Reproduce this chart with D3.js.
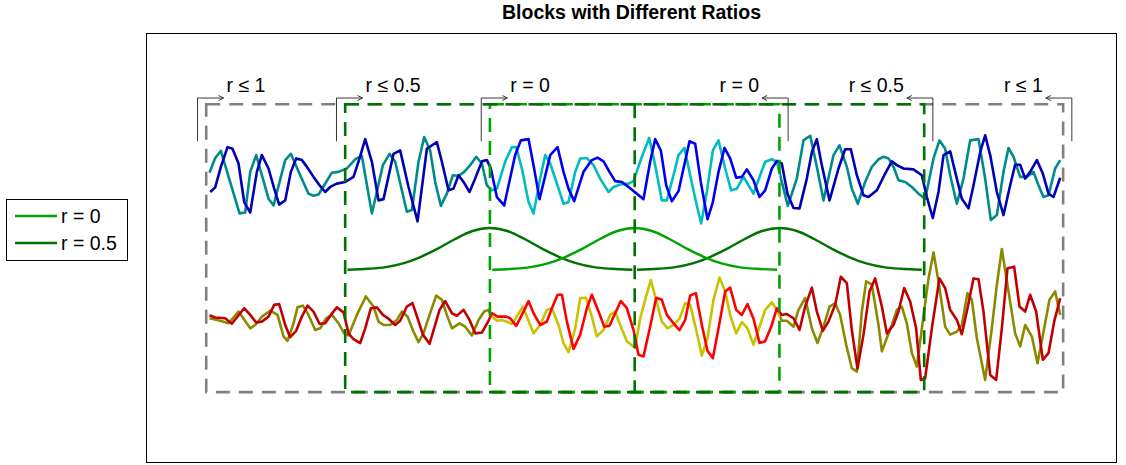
<!DOCTYPE html>
<html>
<head>
<meta charset="utf-8">
<script src="https://cdn.jsdelivr.net/npm/d3@7"></script>
<style>
  body { margin: 0; background: #fff; }
  text { font-family: "Liberation Sans", Arial, Helvetica, sans-serif; fill: #000; }
</style>
</head>
<body>
<svg id="chart" width="1126" height="465"></svg>
<script>
// ---- data -------------------------------------------------------------
// x: sample index (25 samples per block); y: signal amplitude
const blockEdges = [25, 50, 75, 100, 125];
const signalSpan = [1, 149];
const ratioZero = [50, 100];           // region analysed with r = 0
const ratioHalf = [25, 125];           // region analysed with r <= 0.5

// upper pair of signals
const topLead = [[1.57,0.18],[2.55,0.53],[3.53,0.70],[6.75,-0.79],[7.73,-0.77],[8.60,0.20],[9.63,0.60],[11.76,-0.44],[12.63,-0.60],[14.64,0.48],[15.62,0.63],[17.23,0.12],[18.67,-0.32],[19.53,-0.37],[20.40,-0.34],[21.38,-0.12],[22.70,0.18],[23.85,0.20],[25.29,0.28],[26.73,0.50],[27.88,0.58],[29.61,-0.79],[30.47,-0.28],[31.51,0.36],[32.66,0.63],[33.64,0.44],[35.65,-0.75],[36.52,-0.71],[37.67,0.44],[38.65,1.03],[39.68,0.71],[40.55,-0.04],[41.53,-0.61],[42.56,-0.32],[43.60,0.12],[44.58,0.10],[45.56,0.20],[46.59,0.36],[47.63,0.56],[48.61,0.40],[49.47,-0.12],[50.33,-0.24],[51.20,-0.20],[52.63,0.44],[53.79,0.79],[54.54,0.79],[55.52,0.28],[56.67,-0.52],[57.53,-0.79],[58.68,0.04],[59.55,0.60],[60.41,0.40],[61.85,-0.20],[62.71,-0.56],[63.57,-0.52],[64.73,0.20],[65.59,0.52],[66.74,0.53],[67.89,0.36],[69.04,0.04],[70.48,-0.28],[71.35,-0.16],[72.50,-0.10],[73.94,-0.08],[74.80,-0.02],[76.24,0.56],[77.50,1.01],[78.54,0.36],[79.69,-0.48],[80.55,-0.48],[81.70,0.12],[82.57,0.60],[83.60,0.77],[84.58,0.12],[85.73,-0.60],[86.48,-1.03],[87.46,-0.28],[88.50,0.71],[89.48,0.95],[90.63,0.28],[91.66,-0.24],[92.64,-0.20],[93.79,0.08],[94.66,-0.12],[95.52,-0.32],[96.67,0.12],[97.54,0.44],[98.69,0.50],[99.55,0.44],[100.41,-0.04],[101.45,-0.61],[103.0,0.04],[104.16,0.95],[105.31,1.06],[106.46,0.32],[107.61,-0.48],[109.34,0.60],[110.37,0.83],[111.64,0.32],[112.50,-0.20],[113.54,-0.56],[114.81,-0.04],[115.96,0.32],[117.11,0.50],[117.97,0.56],[118.84,0.52],[119.70,0.32],[120.56,0.0],[121.72,-0.04],[122.87,-0.16],[124.02,-0.32],[125.17,-0.44],[126.61,0.52],[127.64,0.95],[128.62,0.75],[129.49,0.12],[130.64,-0.56],[131.79,0.04],[132.94,0.95],[134.38,0.98],[135.53,0.04],[136.51,-0.95],[137.55,-0.83],[138.70,0.20],[139.56,0.77],[140.42,0.56],[141.58,0.08],[142.73,0.08],[143.88,0.20],[144.74,-0.12],[145.60,-0.40],[146.47,-0.36],[147.62,0.28],[148.49,0.48]];

const topLag = [[1.69,-0.28],[2.55,-0.17],[3.53,0.32],[4.68,0.79],[5.54,0.75],[6.58,0.40],[7.56,-0.52],[8.60,-0.77],[9.75,0.20],[10.61,0.60],[11.76,0.28],[12.74,-0.20],[13.60,-0.58],[14.64,-0.48],[15.62,0.20],[16.54,0.52],[17.52,0.48],[18.38,0.32],[19.53,0.08],[20.57,-0.12],[21.55,-0.28],[22.41,-0.16],[23.56,-0.08],[25.00,-0.04],[26.44,0.08],[27.48,0.52],[28.46,0.98],[29.61,0.44],[30.76,-0.48],[31.62,-0.45],[33.35,0.63],[34.50,0.71],[35.94,-0.16],[37.50,-0.98],[39.11,0.75],[40.83,0.91],[41.70,0.44],[42.85,-0.24],[43.71,-0.20],[44.58,0.12],[45.44,-0.04],[46.48,-0.28],[47.45,0.04],[48.61,0.45],[49.47,0.48],[50.16,0.28],[51.20,-0.40],[52.46,-0.60],[54.36,0.60],[55.34,0.95],[56.67,0.98],[57.53,0.36],[58.57,-0.45],[60.41,0.60],[61.68,0.79],[62.71,0.20],[63.57,-0.20],[64.55,-0.50],[66.16,0.20],[67.60,0.48],[68.58,0.54],[69.62,0.45],[70.65,0.20],[71.63,-0.02],[72.79,-0.04],[73.94,-0.16],[75.37,-0.32],[76.52,-0.45],[77.67,0.44],[78.54,0.98],[79.52,0.71],[80.44,-0.12],[81.42,-0.50],[82.57,-0.26],[83.43,0.28],[84.47,0.93],[85.45,0.87],[86.42,-0.04],[87.58,-0.93],[88.50,-0.52],[89.48,0.20],[90.51,0.77],[91.49,0.52],[92.53,0.06],[93.51,0.08],[94.37,0.26],[95.52,0.0],[96.56,-0.40],[97.54,-0.24],[98.69,0.28],[99.55,0.46],[100.41,0.40],[101.39,-0.32],[102.43,-0.66],[103.47,-0.67],[104.73,0.04],[105.60,0.67],[106.46,0.98],[107.32,0.36],[108.65,-0.48],[110.20,0.28],[111.35,0.74],[112.33,0.74],[113.37,0.12],[114.52,-0.36],[115.38,-0.40],[116.82,-0.24],[118.26,0.16],[119.41,0.45],[120.28,0.36],[121.43,0.28],[123.15,0.26],[124.59,0.12],[125.46,-0.40],[126.49,-0.90],[127.47,-0.28],[128.34,0.60],[129.49,0.69],[130.35,0.20],[131.50,-0.44],[132.65,-0.67],[133.52,-0.12],[134.67,0.67],[135.53,1.07],[136.40,0.60],[137.55,-0.28],[138.70,-0.83],[139.85,-0.12],[140.71,0.37],[141.58,0.37],[142.44,0.04],[143.30,0.20],[144.46,0.48],[145.49,0.16],[146.47,-0.32],[147.33,-0.40],[148.49,0.06]];

// lower pair of signals (growing amplitude)
const bottomLead = [[1.57,-0.01],[3.41,-0.07],[4.85,-0.13],[6.58,0.15],[8.60,-0.25],[9.46,-0.17],[10.61,0.03],[12.05,0.17],[13.32,0.07],[14.35,-0.44],[15.04,-0.55],[16.08,-0.13],[16.77,0.25],[17.69,0.29],[18.67,0.07],[19.82,-0.29],[20.68,-0.25],[21.72,-0.01],[22.70,0.07],[23.85,-0.13],[24.83,-0.37],[25.58,-0.42],[27.02,0.07],[28.57,0.51],[29.90,0.27],[30.76,-0.09],[31.62,-0.17],[32.78,-0.17],[33.93,-0.05],[34.79,0.15],[35.77,0.03],[36.80,-0.33],[37.67,-0.58],[38.53,-0.37],[39.57,0.07],[40.72,0.53],[41.70,0.43],[42.56,0.07],[43.43,-0.25],[44.75,-0.13],[45.73,-0.21],[46.88,-0.42],[48.03,-0.05],[49.01,0.15],[49.76,0.19],[50.33,0.03],[51.20,-0.07],[52.06,-0.05],[52.92,-0.09],[53.79,-0.15],[54.65,0.03],[55.69,0.27],[57.53,-0.37],[58.68,-0.17],[59.83,0.19],[60.70,0.23],[61.85,-0.17],[62.71,-0.60],[63.57,-0.82],[64.73,-0.25],[65.59,0.47],[66.57,0.48],[67.60,0.03],[68.47,-0.44],[69.62,-0.29],[70.77,0.07],[71.63,0.15],[72.50,-0.17],[73.65,-0.56],[75.08,-0.72],[75.95,-0.01],[76.81,0.43],[77.79,0.90],[78.71,0.43],[79.69,-0.09],[80.67,-0.25],[81.70,-0.17],[82.74,-0.02],[83.72,0.35],[84.58,0.31],[85.56,-0.25],[86.60,-0.90],[87.58,-0.48],[88.61,0.43],[89.65,0.96],[90.63,0.63],[91.49,0.07],[92.53,-0.37],[93.51,-0.10],[94.48,-0.25],[95.52,-0.64],[96.67,-0.17],[97.54,0.19],[98.69,0.37],[99.55,0.19],[100.41,-0.07],[101.28,-0.07],[102.43,-0.21],[103.29,0.19],[104.44,0.47],[105.60,-0.25],[106.57,-0.60],[107.61,-0.21],[108.65,0.27],[109.63,0.35],[110.49,0.07],[111.53,-0.64],[112.50,-1.20],[113.37,-1.28],[114.23,0.15],[114.98,0.87],[115.96,0.79],[117.11,-0.17],[117.69,-0.80],[118.55,-0.48],[119.41,-0.17],[120.28,0.19],[121.14,0.27],[122.0,-0.13],[122.87,-0.84],[123.73,-1.16],[124.60,-0.25],[125.75,0.94],[126.61,1.56],[127.47,0.87],[128.62,-0.21],[129.49,-0.40],[130.64,-0.33],[131.50,-0.17],[132.48,0.59],[133.23,0.43],[134.09,-0.48],[135.53,-1.48],[136.68,-0.25],[137.55,0.79],[138.41,1.64],[139.56,0.63],[140.71,-0.37],[141.58,-0.68],[142.44,-0.17],[143.59,-0.44],[144.57,-1.08],[145.61,-0.33],[146.64,0.43],[147.62,0.63],[148.49,0.07]];

const bottomLag = [[1.57,0.06],[2.55,0.01],[4.28,-0.01],[5.43,-0.14],[7.56,0.23],[8.60,0.07],[9.63,-0.11],[10.61,-0.09],[11.76,0.03],[12.74,0.31],[13.60,0.33],[14.64,-0.17],[15.50,-0.46],[16.54,-0.31],[17.52,0.03],[18.50,0.29],[19.53,0.15],[20.57,-0.14],[21.55,-0.13],[22.53,0.07],[23.56,0.25],[24.72,0.13],[25.58,-0.37],[26.44,-0.51],[27.59,-0.60],[28.46,-0.25],[29.44,0.23],[30.47,0.25],[31.51,0.07],[32.49,-0.02],[33.64,-0.17],[34.50,-0.07],[35.65,0.27],[36.63,0.35],[37.50,-0.01],[38.42,-0.40],[39.57,-0.62],[41.30,0.19],[42.27,0.40],[43.43,0.11],[44.29,0.05],[45.44,0.19],[46.48,-0.05],[47.45,-0.37],[48.61,-0.35],[49.76,-0.07],[50.33,0.11],[51.31,0.03],[52.81,0.03],[53.50,-0.01],[54.54,-0.19],[55.52,0.07],[56.67,0.40],[57.53,0.11],[58.68,-0.17],[59.83,-0.09],[60.70,0.23],[61.68,0.55],[62.43,0.55],[63.29,-0.09],[64.44,-0.74],[65.59,-0.40],[66.74,0.23],[67.60,0.55],[68.76,0.15],[69.74,-0.21],[70.65,-0.19],[71.63,0.11],[72.61,0.40],[73.65,0.23],[74.80,-0.29],[75.66,-0.88],[76.52,-0.92],[77.67,-0.21],[78.71,0.48],[79.69,0.43],[80.55,0.07],[81.70,-0.13],[82.74,-0.29],[83.72,-0.05],[84.58,0.53],[85.56,0.59],[86.60,-0.17],[87.58,-0.79],[88.50,-0.96],[89.48,-0.25],[90.63,0.63],[91.49,0.72],[92.53,0.19],[93.51,0.07],[94.48,0.33],[95.52,-0.02],[96.56,-0.60],[97.54,-0.56],[98.69,-0.17],[99.55,0.23],[100.41,0.07],[101.28,0.09],[102.43,-0.01],[103.47,-0.29],[104.44,0.27],[105.60,0.72],[106.46,0.15],[107.50,-0.31],[108.47,-0.09],[109.63,0.31],[110.60,0.98],[111.64,0.83],[112.50,-0.29],[113.48,-1.21],[114.52,-0.40],[115.56,0.63],[116.53,0.94],[117.69,0.27],[118.55,-0.37],[119.70,-0.17],[120.56,0.15],[121.54,0.71],[122.58,0.39],[123.61,-0.25],[124.42,-1.48],[125.17,-1.44],[126.32,-0.25],[127.64,0.94],[128.62,0.71],[129.49,0.19],[130.64,-0.05],[131.50,-0.39],[132.48,0.23],[133.52,0.94],[134.38,0.92],[135.24,0.15],[136.40,-1.36],[137.43,-1.48],[138.41,-0.25],[139.39,1.18],[140.54,1.22],[141.46,0.27],[142.44,0.15],[143.30,0.55],[144.34,0.15],[145.49,-1.00],[146.47,-0.84],[147.45,-0.09],[148.49,0.47]];

// analysis window: offsets from window centre and gain
const windowOffsets = [-24.6,-21,-18,-15,-12,-9,-6,-3,0,3,6,9,12,15,18,21,24.6];
const windowGain    = [0.005,0.03,0.07,0.16,0.31,0.51,0.74,0.93,1,0.93,0.74,0.51,0.31,0.16,0.07,0.03,0.005];
const windowCentersHalf = [50, 100];   // r = 0.5
const windowCentersZero = [75];        // r = 0

// bracket annotations: label, bracket position, arrow direction
const brackets = [
  { label: "r \u2264 1",   at: -0.5,  dir:  1 },
  { label: "r \u2264 0.5", at: 23.5,  dir:  1 },
  { label: "r = 0",        at: 48.5,  dir:  1 },
  { label: "r = 0",        at: 101.5, dir: -1 },
  { label: "r \u2264 0.5", at: 126.5, dir: -1 },
  { label: "r \u2264 1",   at: 150.5, dir: -1 }
];
const legendLabels = ["r = 0", "r = 0.5"];

// ---- styling ----------------------------------------------------------
const GREEN_LIGHT = "#00a300";
const GREEN_DARK  = "#007200";
const GRAY        = "#808080";
const colors = {
  topLead:    { outer: "#008b8b", inner: "#00bebe" },
  topLag:     { outer: "#0000b4", inner: "#0000f0" },
  bottomLead: { outer: "#8a8a00", inner: "#c4c400" },
  bottomLag:  { outer: "#c00000", inner: "#ff0000" }
};
const topOffset = 2.14, bottomOffset = -1.14;
const boxYTop = 3.95, boxYBottom = -2.91;
const arrowY = 4.1, bracketBottom = 3.07, arrowLen = 4.5;
const LABEL_SIZE = "19.5px";

// ---- layout -----------------------------------------------------------
const svg = d3.select("#chart");
const frame = { left: 146, top: 33, right: 1117, bottom: 463 };
const x = d3.scaleLinear().domain([-9.4, 158.3]).range([frame.left, frame.right]);
const y = d3.scaleLinear().domain([-4.6, 5.65]).range([frame.bottom, frame.top]);

svg.append("rect").attr("width", 1126).attr("height", 465).attr("fill", "#fff");

// title
svg.append("text")
  .attr("x", (frame.left + frame.right) / 2).attr("y", 19)
  .attr("text-anchor", "middle")
  .style("font-size", "19.5px").style("font-weight", "bold")
  .text("Blocks with Different Ratios");

// axes frame
svg.append("rect")
  .attr("x", frame.left + 0.5).attr("y", frame.top + 0.5)
  .attr("width", frame.right - frame.left - 1).attr("height", frame.bottom - frame.top - 1)
  .attr("fill", "none").attr("stroke", "#000").attr("stroke-width", 1);

// clip regions: inside / outside the r = 0 span
const defs = svg.append("defs");
defs.append("clipPath").attr("id", "clip-inner")
  .append("rect")
  .attr("x", x(ratioZero[0])).attr("y", 0)
  .attr("width", x(ratioZero[1]) - x(ratioZero[0])).attr("height", 465);
const outer = defs.append("clipPath").attr("id", "clip-outer");
outer.append("rect").attr("x", 0).attr("y", 0).attr("width", x(ratioZero[0])).attr("height", 465);
outer.append("rect").attr("x", x(ratioZero[1])).attr("y", 0).attr("width", 1126 - x(ratioZero[1])).attr("height", 465);

const plot = svg.append("g");

function drawSignal(data, offset, col) {
  const line = d3.line().x(d => x(d[0])).y(d => y(offset + d[1]));
  plot.append("path").datum(data).attr("d", line)
    .attr("fill", "none").attr("stroke", col.outer).attr("stroke-width", 2.6)
    .attr("stroke-linejoin", "round").attr("clip-path", "url(#clip-outer)");
  plot.append("path").datum(data).attr("d", line)
    .attr("fill", "none").attr("stroke", col.inner).attr("stroke-width", 2.6)
    .attr("stroke-linejoin", "round").attr("clip-path", "url(#clip-inner)");
}
drawSignal(topLead, topOffset, colors.topLead);
drawSignal(topLag, topOffset, colors.topLag);
drawSignal(bottomLead, bottomOffset, colors.bottomLead);
drawSignal(bottomLag, bottomOffset, colors.bottomLag);

// analysis windows
const windowLine = d3.line().curve(d3.curveCatmullRom)
  .x(d => x(d[0])).y(d => y(d[1]));
function drawWindow(center, color) {
  const pts = windowOffsets.map((o, i) => [center + o, windowGain[i]]);
  plot.append("path").datum(pts).attr("d", windowLine)
    .attr("fill", "none").attr("stroke", color).attr("stroke-width", 2.4);
}
windowCentersHalf.forEach(c => drawWindow(c, GREEN_DARK));
windowCentersZero.forEach(c => drawWindow(c, GREEN_LIGHT));

// dashed block boxes
function dashedBox(x0, x1, color) {
  plot.append("rect")
    .attr("x", x(x0)).attr("y", y(boxYTop))
    .attr("width", x(x1) - x(x0)).attr("height", y(boxYBottom) - y(boxYTop))
    .attr("fill", "none").attr("stroke", color).attr("stroke-width", 2.6)
    .attr("stroke-dasharray", "14 9");
}
dashedBox(signalSpan[0], signalSpan[1], GRAY);
dashedBox(ratioZero[0], ratioZero[1], GREEN_LIGHT);
dashedBox(ratioHalf[0], ratioHalf[1], GREEN_DARK);
// shared block edge in the middle
plot.append("line")
  .attr("x1", x(blockEdges[2])).attr("x2", x(blockEdges[2]))
  .attr("y1", y(boxYTop)).attr("y2", y(boxYBottom))
  .attr("stroke", GREEN_DARK).attr("stroke-width", 2.6)
  .attr("stroke-dasharray", "14 9");

// bracket arrows with labels
const ann = svg.append("g");
brackets.forEach(b => {
  const bx = x(b.at), ay = y(arrowY), tip = x(b.at + b.dir * arrowLen);
  ann.append("path")
    .attr("d", `M${bx},${y(bracketBottom)}V${ay}H${tip}`)
    .attr("fill", "none").attr("stroke", "#222").attr("stroke-width", 0.9);
  ann.append("path")
    .attr("d", `M${tip - b.dir * 5},${ay - 2.5}L${tip},${ay}L${tip - b.dir * 5},${ay + 2.5}`)
    .attr("fill", "none").attr("stroke", "#222").attr("stroke-width", 0.9);
  ann.append("text")
    .attr("x", tip + b.dir * 3).attr("y", y(4.255))
    .attr("text-anchor", b.dir > 0 ? "start" : "end")
    .style("font-size", LABEL_SIZE)
    .text(b.label);
});

// legend
const lg = svg.append("g");
lg.append("rect").attr("x", 6.5).attr("y", 199.5).attr("width", 121).attr("height", 61)
  .attr("fill", "#fff").attr("stroke", "#000").attr("stroke-width", 1);
[GREEN_LIGHT, GREEN_DARK].forEach((c, i) => {
  const ly = 216 + i * 27;
  lg.append("line").attr("x1", 15).attr("x2", 57).attr("y1", ly).attr("y2", ly)
    .attr("stroke", c).attr("stroke-width", 2.4);
  lg.append("text").attr("x", 61).attr("y", ly + 7)
    .style("font-size", LABEL_SIZE).text(legendLabels[i]);
});
</script>
</body>
</html>
